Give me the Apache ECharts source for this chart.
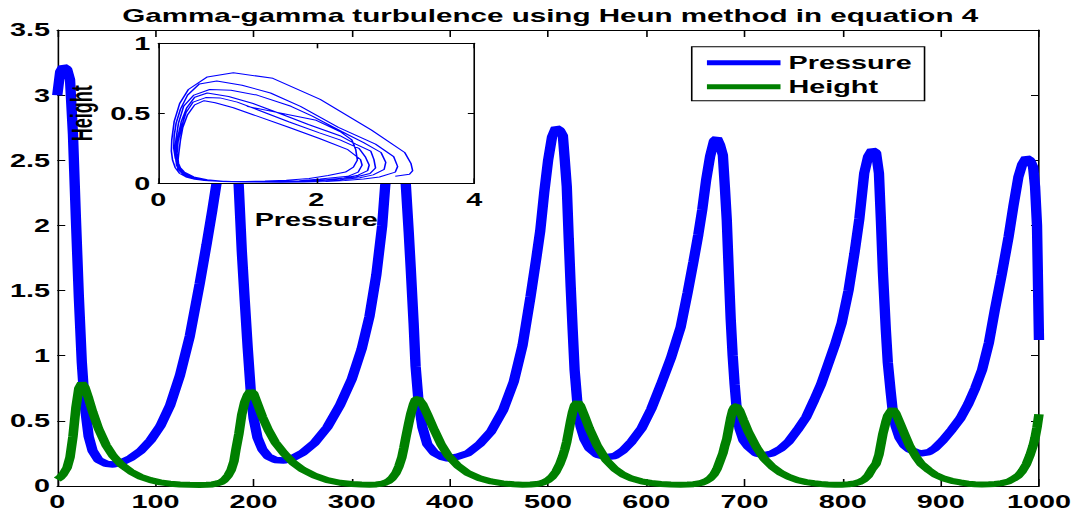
<!DOCTYPE html>
<html>
<head>
<meta charset="utf-8">
<title>Gamma-gamma turbulence</title>
<script src="https://cdn.jsdelivr.net/npm/echarts@6/dist/echarts.min.js"></script>
<style>
  html, body { margin: 0; padding: 0; background: #fff; overflow: hidden; width: 1078px; height: 517px; }
  /* the figure is drawn narrow and widened horizontally, like the exported plot */
  #chart { width: 674px; height: 517px; transform: scaleX(1.5994); transform-origin: 0 0; }
</style>
</head>
<body>
<div id="chart"></div>
<script>
// Heun integration output, sampled along the time axis
const time = [
  0, 3, 6, 10, 13, 16, 19, 22, 25, 28, 32, 36, 42, 50, 57, 65, 75, 85, 95, 105,
  115, 125, 135, 145, 152, 158, 163, 167, 170, 174, 177, 180, 182, 185, 188, 191, 194, 197, 200, 204,
  209, 215, 222, 231, 240, 250, 262, 275, 288, 300, 310, 318, 325, 331, 334, 338, 341, 345, 348, 351,
  353, 355, 358, 360, 363, 365, 368, 372, 377, 384, 391, 398, 408, 418, 430, 442, 454, 465, 474, 482,
  488, 492, 496, 500, 504, 508, 512, 515, 517, 519, 521, 523, 525, 527, 530, 533, 537, 542, 550, 559,
  568, 576, 585, 595, 605, 615, 625, 635, 642, 648, 653, 657, 661, 665, 669, 672, 675, 678, 680, 682,
  684, 686, 688, 690, 692, 695, 699, 704, 712, 720, 728, 737, 745, 754, 763, 771, 778, 785, 792, 799,
  806, 812, 817, 822, 826, 830, 834, 837, 839, 841, 844, 846, 849, 851, 854, 858, 863, 868, 875, 880,
  888, 894, 902, 911, 920, 928, 935, 942, 949, 955, 962, 969, 974, 979, 983, 987, 991, 994, 996, 998,
  1000
];

const pressure = [
  3.00, 3.18, 3.22, 3.20, 3.12, 2.70, 2.05, 1.45, 0.95, 0.62, 0.38, 0.27, 0.20, 0.17, 0.165, 0.18, 0.215, 0.27, 0.35, 0.46,
  0.62, 0.85, 1.15, 1.55, 1.85, 2.12, 2.36, 2.60, 2.80, 3.00, 3.03, 2.98, 2.75, 2.28, 1.80, 1.42, 1.06, 0.74, 0.52, 0.37,
  0.28, 0.225, 0.20, 0.195, 0.215, 0.255, 0.33, 0.45, 0.62, 0.82, 1.05, 1.30, 1.62, 2.00, 2.30, 2.55, 2.72, 2.86, 2.88, 2.82,
  2.60, 2.32, 1.95, 1.68, 1.25, 0.92, 0.65, 0.45, 0.32, 0.255, 0.225, 0.21, 0.225, 0.25, 0.32, 0.42, 0.58, 0.80, 1.08, 1.45,
  1.75, 1.96, 2.25, 2.50, 2.68, 2.75, 2.73, 2.69, 2.50, 2.30, 1.90, 1.53, 1.20, 0.89, 0.62, 0.46, 0.36, 0.29, 0.24, 0.222,
  0.23, 0.27, 0.34, 0.44, 0.59, 0.78, 0.98, 1.22, 1.48, 1.72, 1.93, 2.12, 2.35, 2.53, 2.65, 2.67, 2.62, 2.54, 2.30, 2.04,
  1.65, 1.28, 1.00, 0.78, 0.60, 0.44, 0.35, 0.30, 0.25, 0.236, 0.25, 0.287, 0.34, 0.43, 0.53, 0.66, 0.78, 0.93, 1.08, 1.25,
  1.50, 1.785, 2.05, 2.40, 2.53, 2.58, 2.56, 2.40, 2.04, 1.65, 1.20, 0.95, 0.72, 0.58, 0.46, 0.37, 0.31, 0.28, 0.26, 0.25,
  0.26, 0.29, 0.35, 0.43, 0.52, 0.63, 0.75, 0.89, 1.10, 1.35, 1.62, 1.91, 2.15, 2.37, 2.47, 2.52, 2.50, 2.45, 2.30, 2.00,
  1.12
];

const height = [
  0.05, 0.065, 0.09, 0.14, 0.22, 0.38, 0.60, 0.75, 0.79, 0.76, 0.67, 0.57, 0.44, 0.31, 0.23, 0.165, 0.11, 0.07, 0.045, 0.028,
  0.018, 0.012, 0.009, 0.008, 0.009, 0.012, 0.02, 0.03, 0.045, 0.08, 0.12, 0.19, 0.28, 0.40, 0.55, 0.645, 0.70, 0.73, 0.71, 0.63,
  0.53, 0.43, 0.335, 0.25, 0.18, 0.125, 0.08, 0.045, 0.025, 0.015, 0.011, 0.01, 0.012, 0.018, 0.025, 0.04, 0.06, 0.10, 0.15, 0.22,
  0.29, 0.37, 0.48, 0.55, 0.63, 0.665, 0.67, 0.63, 0.55, 0.43, 0.32, 0.235, 0.155, 0.10, 0.06, 0.035, 0.02, 0.013, 0.01, 0.011,
  0.015, 0.02, 0.03, 0.045, 0.07, 0.11, 0.17, 0.23, 0.28, 0.34, 0.42, 0.50, 0.57, 0.62, 0.645, 0.615, 0.54, 0.44, 0.31, 0.20,
  0.13, 0.088, 0.057, 0.036, 0.023, 0.015, 0.011, 0.01, 0.011, 0.014, 0.019, 0.026, 0.038, 0.058, 0.09, 0.13, 0.19, 0.25, 0.31, 0.36,
  0.44, 0.52, 0.58, 0.61, 0.612, 0.58, 0.505, 0.415, 0.30, 0.21, 0.15, 0.10, 0.07, 0.045, 0.03, 0.021, 0.016, 0.012, 0.01, 0.01,
  0.013, 0.019, 0.03, 0.05, 0.08, 0.13, 0.17, 0.24, 0.32, 0.40, 0.49, 0.54, 0.575, 0.59, 0.56, 0.49, 0.40, 0.31, 0.22, 0.17,
  0.12, 0.088, 0.06, 0.04, 0.027, 0.018, 0.014, 0.012, 0.013, 0.016, 0.022, 0.035, 0.055, 0.08, 0.115, 0.165, 0.24, 0.31, 0.37, 0.45,
  0.55
];

const chartTitle = 'Gamma-gamma turbulence using Heun method in equation 4';
const seriesNames = ['Pressure', 'Height'];
const insetNames = { x: 'Pressure', y: 'Height' };

const FONT = '"Liberation Sans", Arial, Helvetica, sans-serif';
const BLUE = '#0000ff';
const GREEN = '#008000';

const labelStyle = (margin) => ({
  show: true, margin, color: '#000', fontFamily: FONT, fontWeight: 'bold', fontSize: 18,
  formatter: (v) => String(v)
});

// one framed axis: black line, ticks pointing into the plot
function axis(opts) {
  const { gridIndex, min, max, interval, position, tickLen, label, z } = opts;
  return Object.assign({
    type: 'value', gridIndex, min, max, interval, position, z: z || 0,
    axisLine: { show: true, onZero: false, lineStyle: { color: '#000', width: 1 } },
    axisTick: { show: true, inside: true, length: tickLen, lineStyle: { color: '#000', width: 1 } },
    axisLabel: label || { show: false },
    splitLine: { show: false }
  }, opts.extra || {});
}

const nameStyle = { color: '#000', fontFamily: FONT, fontWeight: 'bold', fontSize: 18 };

const chart = echarts.init(document.getElementById('chart'), null, { renderer: 'svg' });

const option = {
  animation: false,
  backgroundColor: '#fff',
  title: {
    text: chartTitle,
    left: 344, top: 6, textAlign: 'center', padding: 0,
    textStyle: { color: '#000', fontFamily: FONT, fontWeight: 'bold', fontSize: 18.5 }
  },
  legend: {
    data: seriesNames,
    orient: 'vertical', left: 432.5, top: 46.7,
    icon: 'rect', itemWidth: 46, itemHeight: 5, itemGap: 6,
    padding: [7, 8, 5, 9.5],
    backgroundColor: '#fff', borderColor: '#000', borderWidth: 1, borderRadius: 0,
    selectedMode: false, z: 6,
    textStyle: { color: '#000', fontFamily: FONT, fontWeight: 'bold', fontSize: 18, lineHeight: 18 }
  },
  grid: [
    { left: 35.8, right: 24.4, top: 30, bottom: 31, containLabel: false },
    { left: 99, right: 377.5, top: 43.3, bottom: 333.7, containLabel: false,
      show: true, backgroundColor: '#fff', borderWidth: 0, z: 3 }
  ],
  xAxis: [
    axis({ gridIndex: 0, min: 0, max: 1000, interval: 100, position: 'bottom', tickLen: 7, label: labelStyle(7) }),
    axis({ gridIndex: 0, min: 0, max: 1000, interval: 100, position: 'top', tickLen: 7 }),
    axis({ gridIndex: 1, min: 0, max: 4, interval: 2, position: 'bottom', tickLen: 5, label: labelStyle(7.5), z: 5,
      extra: { name: insetNames.x, nameLocation: 'middle', nameGap: 27, nameTextStyle: nameStyle } }),
    axis({ gridIndex: 1, min: 0, max: 4, interval: 2, position: 'top', tickLen: 5, z: 5 })
  ],
  yAxis: [
    axis({ gridIndex: 0, min: 0, max: 3.5, interval: 0.5, position: 'left', tickLen: 5, label: labelStyle(4.5) }),
    axis({ gridIndex: 0, min: 0, max: 3.5, interval: 0.5, position: 'right', tickLen: 5 }),
    axis({ gridIndex: 1, min: 0, max: 1, interval: 0.5, position: 'left', tickLen: 4, label: labelStyle(5), z: 5,
      extra: { name: insetNames.y, nameLocation: 'middle', nameGap: 39, nameRotate: 90, nameTextStyle: nameStyle } }),
    axis({ gridIndex: 1, min: 0, max: 1, interval: 0.5, position: 'right', tickLen: 4, z: 5 })
  ],
  series: [
    {
      name: seriesNames[0], type: 'line', xAxisIndex: 0, yAxisIndex: 0, z: 2,
      data: time.map((t, i) => [t, pressure[i]]),
      symbol: 'none', smooth: false,
      lineStyle: { color: BLUE, width: 6.5 }, itemStyle: { color: BLUE }
    },
    {
      name: seriesNames[1], type: 'line', xAxisIndex: 0, yAxisIndex: 0, z: 2,
      data: time.map((t, i) => [t, height[i]]),
      symbol: 'none', smooth: false,
      lineStyle: { color: GREEN, width: 6 }, itemStyle: { color: GREEN }
    },
    {
      // phase portrait: height against pressure
      name: 'phase', type: 'line', xAxisIndex: 2, yAxisIndex: 2, z: 4,
      data: pressure.map((p, i) => [p, height[i]]),
      symbol: 'none', smooth: false,
      lineStyle: { color: BLUE, width: 1 }, itemStyle: { color: BLUE }
    }
  ]
};

chart.setOption(option);
</script>
</body>
</html>
